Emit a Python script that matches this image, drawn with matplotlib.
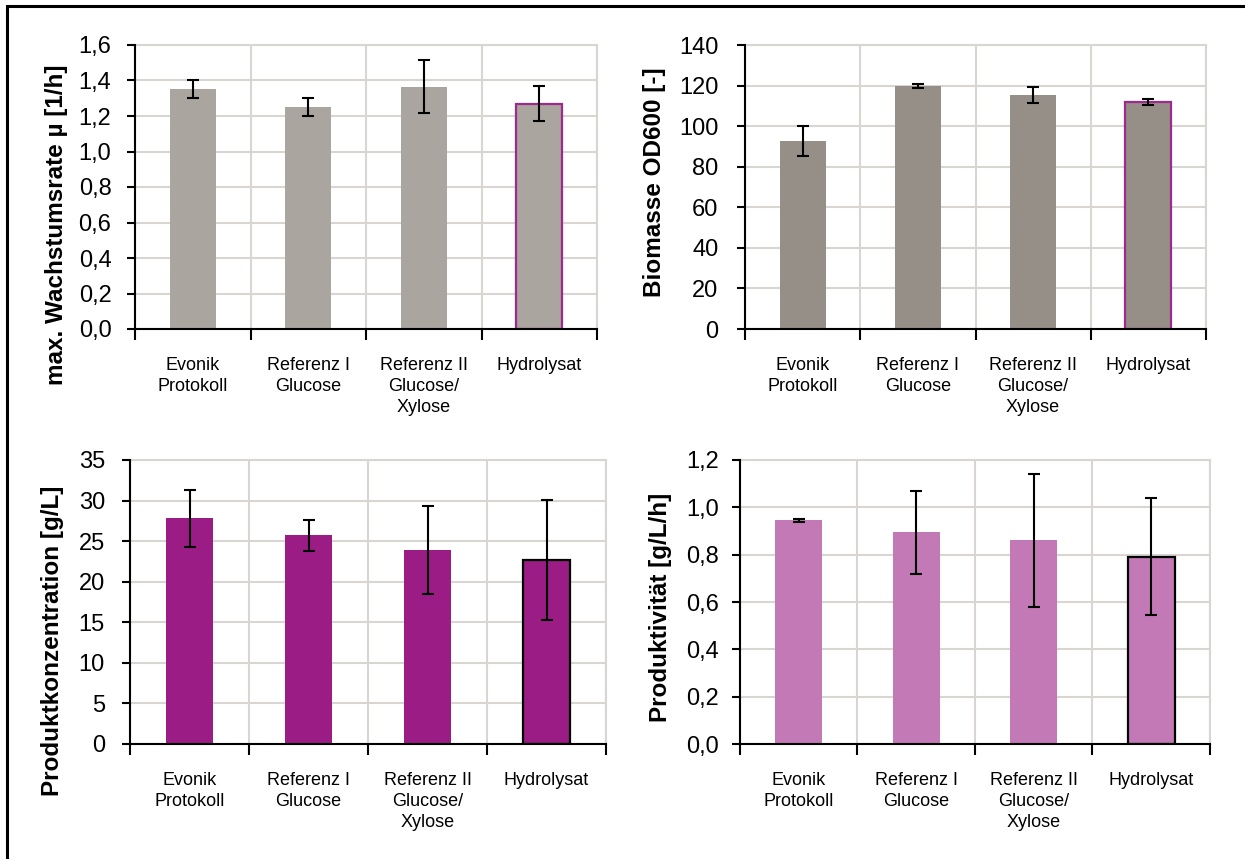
import numpy as np
import matplotlib.pyplot as plt
from matplotlib.patches import Rectangle
from matplotlib.ticker import FuncFormatter

plt.rcParams['font.family'] = ['Liberation Sans', 'DejaVu Sans']

categories = ['Evonik\nProtokoll', 'Referenz I\nGlucose', 'Referenz II\nGlucose/\nXylose', 'Hydrolysat']

mu_vals = [1.35, 1.25, 1.365, 1.27]
mu_err = [0.05, 0.05, 0.15, 0.098]

od_vals = [92.5, 120.0, 115.3, 112.0]
od_err = [7.4, 1.0, 4.1, 1.4]

conc_vals = [27.8, 25.7, 23.9, 22.7]
conc_err = [3.5, 1.95, 5.45, 7.4]

prod_vals = [0.945, 0.895, 0.86, 0.792]
prod_err = [0.005, 0.175, 0.28, 0.246]

W, H = 1245, 859
GRID = '#D9D6D1'


def panel(rect, vals, errs, color, edge, ylim, step, decimals, ylabel, label_xy, pad):
    x0, y0, w, h = rect
    ax = fig.add_axes([x0 / W, 1 - (y0 + h) / H, w / W, h / H])
    x = np.arange(len(vals))
    edges = ['none'] * (len(vals) - 1) + [edge]
    ax.bar(x, vals, width=0.4, color=color, edgecolor=edges, linewidth=1.6, zorder=2)
    ax.errorbar(x, vals, yerr=errs, fmt='none', ecolor='black', elinewidth=1.5,
                capsize=4, capthick=1.5, zorder=3)
    ax.set_xlim(-0.5, len(vals) - 0.5)
    ax.set_ylim(0, ylim)
    ax.set_yticks(np.arange(0, ylim + step / 2, step))
    ax.yaxis.set_major_formatter(FuncFormatter(lambda v, p: f'{v:.{decimals}f}'.replace('.', ',')))
    ax.set_xticks(np.arange(-0.5, len(vals), 1.0))
    ax.set_xticklabels([])
    ax.set_xticks(x, minor=True)
    ax.set_xticklabels(categories, minor=True, fontsize=13, linespacing=1.3)
    ax.tick_params(axis='x', which='minor', length=0, pad=20)
    ax.tick_params(axis='x', which='major', length=8, width=1.5, direction='out')
    ax.tick_params(axis='y', length=6, width=1.5, labelsize=17, pad=pad)
    ax.grid(True, color=GRID, linewidth=1.5, zorder=0)
    ax.set_axisbelow(True)
    for s in ['left', 'bottom']:
        ax.spines[s].set_linewidth(1.5)
        ax.spines[s].set_zorder(4)
    for s in ['top', 'right']:
        ax.spines[s].set_color(GRID)
        ax.spines[s].set_linewidth(1.5)
    fig.text(label_xy[0] / W, 1 - label_xy[1] / H, ylabel, rotation=90,
             ha='center', va='center', fontsize=17.5, fontweight='bold')
    return ax


fig = plt.figure(figsize=(W / 100, H / 100), dpi=100)

panel((135, 45, 462, 284), mu_vals, mu_err, '#AAA59F', '#9E2A8E', 1.6, 0.2, 1,
      'max. Wachstumsrate µ [1/h]', (57, 225), 11)
panel((745, 45, 461, 284), od_vals, od_err, '#968F88', '#9E2A8E', 140, 20, 0,
      'Biomasse OD600 [-]', (654, 182), 13)
panel((130, 460, 476, 284), conc_vals, conc_err, '#9A1C84', 'black', 35, 5, 0,
      'Produktkonzentration [g/L]', (53, 641), 12)
panel((740, 460, 470, 284), prod_vals, prod_err, '#C379B5', 'black', 1.2, 0.2, 1,
      'Produktivität [g/L/h]', (660, 607), 9)

# frame around the whole picture
fig.patches.append(Rectangle((7 / W, -0.05), 1.1, 1 - 6 / H + 0.05, transform=fig.transFigure,
                             fill=False, edgecolor='black', linewidth=2.2))

fig.savefig('out.png', dpi=100)
